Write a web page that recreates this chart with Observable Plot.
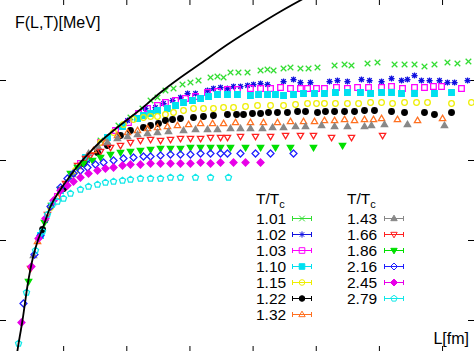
<!DOCTYPE html>
<html><head><meta charset="utf-8">
<script src="https://cdn.jsdelivr.net/npm/d3@7"></script>
<script src="https://cdn.jsdelivr.net/npm/@observablehq/plot@0.6"></script>
<style>
html,body{margin:0;padding:0;background:#fff;}
#chart{position:relative;width:474px;height:351px;overflow:hidden;}
#chart svg{display:block;}
</style>
</head><body><div id="chart"></div>
<script>
// ---- data: L [fm], F [MeV] ----
const xTicks = [0.5, 1.0, 1.5, 2.0, 2.5, 3.0, 3.5];
const yTicks = [-400, 0, 400, 800];
const temps = ["1.01","1.02","1.03","1.10","1.15","1.22","1.32","1.43","1.66","1.86","2.16","2.45","2.79"];
const colors = ["#33dd33","#1010e0","#ff00ff","#00e0f0","#eeee00","#000000","#ff7020","#888888","#ff2020","#00e000","#2020ff","#e800e8","#10e8e8"];

const zeroT = [[0.127,-580],[0.143,-515],[0.158,-460],[0.174,-400],[0.190,-330],[0.214,-225],[0.238,-140],[0.261,-75],[0.293,-5],[0.333,60],[0.396,170],[0.475,255],[0.554,325],[0.633,390],[0.713,445],[0.792,495],[0.895,550],[1.006,605],[1.108,655],[1.267,740],[1.425,815],[1.584,885],[1.797,980],[2.059,1085],[2.217,1145],[2.415,1215]];

const f101 = [[0.396,175],[0.554,315],[0.792,500],[0.934,575],[1.029,615],[1.124,660],[1.188,700],[1.243,715],[1.306,750],[1.370,760],[1.441,780],[1.504,790],[1.568,800],[1.663,815],[1.718,820],[1.766,815],[1.821,840],[1.884,840],[1.956,840],[2.059,850],[2.114,855],[2.162,850],[2.241,860],[2.296,865],[2.375,860],[2.439,860],[2.510,865],[2.645,875],[2.724,880],[2.779,875],[2.906,885],[2.985,890],[3.120,880],[3.199,880],[3.278,880],[3.357,870],[3.436,880],[3.539,890],[3.618,885],[3.705,895]];
const f102 = [[0.356,100],[0.499,260],[0.689,400],[0.847,510],[1.006,600],[1.148,660],[1.227,665],[1.291,685],[1.362,700],[1.425,715],[1.481,735],[1.544,735],[1.639,750],[1.686,760],[1.742,765],[1.797,760],[1.845,770],[1.900,770],[1.956,775],[2.003,780],[2.059,785],[2.114,780],[2.241,795],[2.320,805],[2.375,790],[2.454,790],[2.605,795],[2.668,800],[2.747,795],[2.858,805],[2.922,800],[3.017,795],[3.096,810],[3.175,800],[3.222,805],[3.278,825],[3.333,800],[3.397,800],[3.476,800],[3.539,790],[3.595,790],[3.698,800]];
const f103 = [[0.451,220],[0.633,385],[0.792,490],[0.911,550],[1.013,590],[1.093,635],[1.164,660],[1.243,675],[1.306,690],[1.386,700],[1.465,710],[1.544,720],[1.639,740],[1.718,745],[1.797,755],[1.876,755],[1.979,760],[2.059,760],[2.138,760],[2.217,765],[2.296,760],[2.375,760],[2.431,760],[2.502,760],[2.565,760],[2.660,765],[2.747,760],[2.827,765],[2.914,765],[3.017,765],[3.096,770],[3.183,760],[3.278,765],[3.357,765],[3.428,770],[3.492,770],[3.650,760]];
const f110 = [[0.317,25],[0.475,250],[0.673,415],[0.847,515],[0.966,570],[1.085,610],[1.132,625],[1.188,635],[1.243,650],[1.322,660],[1.386,675],[1.449,690],[1.520,700],[1.584,710],[1.647,720],[1.718,730],[1.797,730],[1.876,730],[1.979,725],[2.043,730],[2.114,730],[2.177,730],[2.241,725],[2.320,730],[2.399,735],[2.486,735],[2.565,735],[2.652,740],[2.747,740],[2.850,740],[2.930,735],[3.017,740],[3.096,740],[3.175,735],[3.278,735],[3.436,735],[3.571,740]];
const f115 = [[0.396,165],[0.594,350],[0.792,490],[0.895,540],[0.974,580],[1.053,605],[1.132,615],[1.188,620],[1.243,620],[1.306,630],[1.370,640],[1.449,650],[1.528,660],[1.607,660],[1.686,660],[1.766,665],[1.845,665],[1.940,670],[2.035,675],[2.138,675],[2.241,675],[2.336,680],[2.431,685],[2.502,685],[2.565,685],[2.652,685],[2.747,685],[2.835,685],[2.930,690],[3.017,690],[3.104,685],[3.199,690],[3.294,690],[3.381,690],[3.571,685],[3.729,690]];
const f122 = [[0.333,55],[0.499,260],[0.657,385],[0.768,440],[0.847,475],[0.950,525],[1.029,550],[1.132,565],[1.188,575],[1.251,585],[1.306,600],[1.362,605],[1.425,610],[1.528,615],[1.607,620],[1.686,625],[1.797,630],[1.869,630],[1.924,630],[1.995,635],[2.059,635],[2.122,640],[2.193,640],[2.272,640],[2.352,645],[2.415,645],[2.510,640],[2.573,645],[2.645,645],[2.724,645],[2.803,645],[2.882,650],[2.961,650],[3.096,645],[3.199,640],[3.357,640],[3.436,630],[3.571,640]];
const f132 = [[0.293,-5],[0.451,220],[0.618,370],[0.736,450],[0.831,490],[0.926,525],[1.006,540],[1.085,550],[1.164,560],[1.243,565],[1.322,570],[1.401,575],[1.489,580],[1.584,585],[1.679,585],[1.766,585],[1.861,590],[1.979,590],[2.082,590],[2.193,590],[2.296,595],[2.399,595],[2.486,595],[2.565,600],[2.645,600],[2.724,605],[2.803,600],[2.882,605],[2.953,605],[3.017,610],[3.143,605],[3.302,600],[3.500,610]];
const f143 = [[0.261,-75],[0.412,190],[0.570,330],[0.697,435],[0.776,465],[0.847,490],[0.926,510],[1.006,520],[1.085,530],[1.164,535],[1.243,540],[1.330,545],[1.449,550],[1.544,555],[1.639,555],[1.718,555],[1.821,560],[1.900,560],[1.979,560],[2.074,560],[2.154,565],[2.241,565],[2.336,570],[2.415,570],[2.542,575],[2.645,570],[2.747,570],[2.882,570],[2.937,575],[3.040,580],[3.222,580],[3.515,575]];
const f166 = [[0.238,-140],[0.372,130],[0.515,285],[0.610,375],[0.673,410],[0.713,425],[0.792,445],[0.871,465],[0.950,475],[1.029,490],[1.108,500],[1.188,505],[1.267,500],[1.346,505],[1.425,510],[1.504,510],[1.584,510],[1.663,515],[1.742,515],[1.797,515],[1.900,520],[2.019,520],[2.138,520],[2.257,525],[2.375,525],[2.478,525],[2.621,515],[2.779,515],[3.025,525]];
const f186 = [[0.222,-205],[0.348,90],[0.475,255],[0.554,335],[0.610,365],[0.657,385],[0.728,400],[0.792,415],[0.871,430],[0.950,440],[1.029,445],[1.108,450],[1.188,455],[1.267,460],[1.346,460],[1.425,460],[1.504,465],[1.584,465],[1.663,465],[1.742,465],[1.821,465],[1.940,465],[2.059,465],[2.177,465],[2.296,465],[2.478,465],[2.708,475]];
const f216 = [[0.182,-315],[0.269,-70],[0.317,25],[0.396,170],[0.475,265],[0.530,310],[0.578,335],[0.633,350],[0.689,365],[0.752,380],[0.816,390],[0.895,400],[0.974,410],[1.053,415],[1.132,420],[1.188,420],[1.267,425],[1.346,430],[1.425,430],[1.504,430],[1.584,435],[1.663,435],[1.742,435],[1.797,435],[1.900,435],[2.019,435],[2.138,435],[2.320,435]];
const f245 = [[0.166,-410],[0.245,-130],[0.301,10],[0.356,110],[0.420,200],[0.475,250],[0.530,275],[0.578,295],[0.633,315],[0.697,335],[0.768,350],[0.831,360],[0.895,365],[0.966,375],[1.029,380],[1.108,380],[1.188,385],[1.267,385],[1.346,385],[1.425,385],[1.504,385],[1.584,390],[1.663,385],[1.742,390],[1.845,390],[1.940,390],[2.059,390]];
const f279 = [[0.143,-515],[0.206,-260],[0.277,-50],[0.333,45],[0.372,130],[0.412,180],[0.451,195],[0.499,210],[0.554,235],[0.633,255],[0.697,270],[0.768,280],[0.831,290],[0.895,295],[0.966,300],[1.029,305],[1.108,310],[1.188,310],[1.267,310],[1.346,315],[1.425,315],[1.544,315],[1.663,315],[1.805,315]];

// ---- gnuplot-like point symbols ----
const H = s => Math.sqrt(s / Math.PI);
const sym = {
  times:{draw(c,s){const h=H(s);c.moveTo(-h,-h);c.lineTo(h,h);c.moveTo(-h,h);c.lineTo(h,-h);}},
  star:{draw(c,s){const h=H(s)*1.1,k=h*0.72;c.moveTo(-h,0);c.lineTo(h,0);c.moveTo(0,-h);c.lineTo(0,h);c.moveTo(-k,-k);c.lineTo(k,k);c.moveTo(-k,k);c.lineTo(k,-k);}},
  square:{draw(c,s){const h=H(s);c.rect(-h,-h,2*h,2*h);}},
  circle:{draw(c,s){const h=H(s);c.moveTo(h,0);c.arc(0,0,h,0,2*Math.PI);c.closePath();}},
  triUp:{draw(c,s){const h=H(s)*1.2;c.moveTo(0,-h);c.lineTo(h*0.95,h*0.65);c.lineTo(-h*0.95,h*0.65);c.closePath();}},
  triDown:{draw(c,s){const h=H(s)*1.2;c.moveTo(0,h);c.lineTo(h*0.95,-h*0.65);c.lineTo(-h*0.95,-h*0.65);c.closePath();}},
  diamond:{draw(c,s){const h=H(s)*1.25;c.moveTo(0,-h);c.lineTo(h,0);c.lineTo(0,h);c.lineTo(-h,0);c.closePath();}},
  pentagon:{draw(c,s){const h=H(s)*1.15;for(let i=0;i<5;i++){const a=-Math.PI/2+i*2*Math.PI/5;const px=h*Math.cos(a),py=h*Math.sin(a);if(i)c.lineTo(px,py);else c.moveTo(px,py);}c.closePath();}}
};
const symNames = ["times","star","square","square","circle","circle","triUp","triUp","triDown","triDown","diamond","diamond","pentagon"];
const filled   = [false,false,false,true,false,true,false,true,false,true,false,true,false];
const datasets = [f101,f102,f103,f110,f115,f122,f132,f143,f166,f186,f216,f245,f279];

const W = 474, Ht = 351, R = 2.8;
const series = temps.map((t,i)=>({t, data:datasets[i], color:colors[i], symbol:sym[symNames[i]], filled:filled[i]}));

const plot = Plot.plot({
  width: W, height: Ht,
  margin: 0,
  style: {background:"#fff", overflow:"hidden"},
  x: {domain:[0, W/126.3], axis:null},
  y: {domain:[-555, 1200], axis:null},
  marks: [
    Plot.ruleX(xTicks, {x:d=>d, insetBottom: Ht-5, stroke:"#000", strokeWidth:1}),
    Plot.ruleX(xTicks, {x:d=>d, insetTop: Ht-5, stroke:"#000", strokeWidth:1}),
    Plot.ruleY(yTicks, {y:d=>d, insetRight: W-6, stroke:"#000", strokeWidth:1}),
    Plot.ruleY(yTicks, {y:d=>d, insetLeft: W-6, stroke:"#000", strokeWidth:1}),
    ...series.map(s => Plot.dot(s.data, {
      x:d=>d[0], y:d=>d[1], r:R, symbol:s.symbol,
      stroke:s.color, strokeWidth:1.25, fill: s.filled ? s.color : "none"
    })),
    Plot.line(zeroT, {x:d=>d[0], y:d=>d[1], curve:"monotone-x", stroke:"#000", strokeWidth:1.8, clip:true})
  ]
});
document.getElementById("chart").appendChild(plot);

// ---- labels and legend ----
const svg = d3.select(plot);
const font = "'Liberation Sans', Arial, Helvetica, sans-serif";
svg.append("text").attr("x",15).attr("y",28).attr("text-anchor","start").attr("font-family",font).attr("font-size",16).attr("fill","#000").text("F(L,T)[MeV]");
svg.append("text").attr("x",469).attr("y",344).attr("text-anchor","end").attr("font-family",font).attr("font-size",16).attr("fill","#000").text("L[fm]");

const leg = svg.append("g").attr("font-family",font).attr("font-size",15.5).attr("fill","#000").attr("text-anchor","start");
const cols = [{tx:256, sx:302, items:series.slice(0,7)}, {tx:347, sx:394, items:series.slice(7)}];
cols.forEach(col=>{
  const hdr = leg.append("text").attr("x",col.tx).attr("y",204);
  hdr.append("tspan").text("T/T");
  hdr.append("tspan").attr("font-size",11).attr("dy",4).text("c");
  col.items.forEach((s,k)=>{
    const by = 224 + 16*k, cy = by - 5.5;
    leg.append("text").attr("x",col.tx).attr("y",by).text(s.t);
    const g = leg.append("g").attr("stroke",s.color).attr("stroke-width",1).attr("fill","none");
    g.append("line").attr("x1",col.sx-9.5).attr("x2",col.sx+9.5).attr("y1",cy).attr("y2",cy);
    g.append("line").attr("x1",col.sx-9.5).attr("x2",col.sx-9.5).attr("y1",cy-2.5).attr("y2",cy+2.5);
    g.append("line").attr("x1",col.sx+9.5).attr("x2",col.sx+9.5).attr("y1",cy-2.5).attr("y2",cy+2.5);
    g.append("path").attr("transform",`translate(${col.sx},${cy})`)
      .attr("d", d3.symbol(s.symbol, Math.PI*R*R)())
      .attr("fill", s.filled ? s.color : "none");
  });
});
</script>
</body></html>
